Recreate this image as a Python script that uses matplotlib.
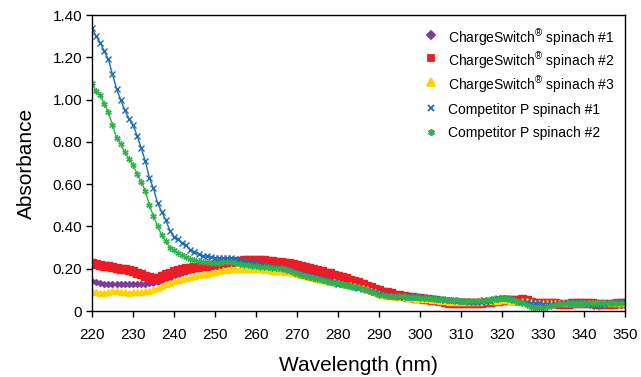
import numpy as np
import matplotlib
matplotlib.use('Agg')
import matplotlib.pyplot as plt
from matplotlib.ticker import FuncFormatter

plt.rcParams['font.family'] = ['Liberation Sans', 'DejaVu Sans']

# 波长 220-350 nm，每 1 nm 一个点
wavelength = list(range(220, 351))

# ChargeSwitch spinach #1（紫）
cs1 = [
    0.142, 0.138, 0.132, 0.127, 0.126, 0.126, 0.126, 0.126, 0.126, 0.127,
    0.128, 0.129, 0.130, 0.130, 0.131, 0.133, 0.138, 0.145, 0.152, 0.158,
    0.164, 0.170, 0.178, 0.185, 0.192, 0.198, 0.205, 0.210, 0.213, 0.216,
    0.220, 0.224, 0.227, 0.229, 0.230, 0.230, 0.229, 0.228, 0.227, 0.226,
    0.225, 0.224, 0.223, 0.222, 0.220, 0.218, 0.215, 0.212, 0.208, 0.205,
    0.200, 0.197, 0.194, 0.190, 0.186, 0.180, 0.175, 0.168, 0.162, 0.155,
    0.150, 0.145, 0.140, 0.135, 0.128, 0.120, 0.114, 0.108, 0.100, 0.094,
    0.088, 0.083, 0.079, 0.075, 0.072, 0.070, 0.068, 0.066, 0.064, 0.062,
    0.061, 0.059, 0.057, 0.055, 0.053, 0.051, 0.049, 0.047, 0.045, 0.044,
    0.043, 0.042, 0.042, 0.042, 0.043, 0.044, 0.045, 0.046, 0.047, 0.048,
    0.049, 0.050, 0.049, 0.047, 0.045, 0.042, 0.040, 0.038, 0.036, 0.035,
    0.035, 0.034, 0.034, 0.034, 0.035, 0.035, 0.035, 0.036, 0.036, 0.036,
    0.036, 0.036, 0.035, 0.035, 0.035, 0.034, 0.033, 0.032, 0.030, 0.029,
    0.028,
]

# ChargeSwitch spinach #2（红）
cs2 = [
    0.225, 0.222, 0.218, 0.215, 0.212, 0.210, 0.204, 0.200, 0.198, 0.194,
    0.190, 0.182, 0.175, 0.168, 0.162, 0.158, 0.157, 0.165, 0.175, 0.182,
    0.188, 0.193, 0.198, 0.202, 0.205, 0.208, 0.210, 0.212, 0.214, 0.217,
    0.220, 0.222, 0.226, 0.230, 0.233, 0.236, 0.238, 0.240, 0.241, 0.241,
    0.241, 0.241, 0.240, 0.238, 0.235, 0.232, 0.230, 0.228, 0.225, 0.222,
    0.218, 0.214, 0.210, 0.205, 0.200, 0.194, 0.188, 0.182, 0.178, 0.172,
    0.166, 0.160, 0.155, 0.148, 0.142, 0.135, 0.128, 0.120, 0.112, 0.105,
    0.098, 0.092, 0.088, 0.083, 0.078, 0.074, 0.070, 0.067, 0.064, 0.062,
    0.060, 0.058, 0.056, 0.054, 0.050, 0.046, 0.043, 0.040, 0.038, 0.037,
    0.036, 0.036, 0.036, 0.036, 0.038, 0.040, 0.042, 0.044, 0.046, 0.048,
    0.050, 0.050, 0.050, 0.052, 0.054, 0.056, 0.050, 0.042, 0.040, 0.039,
    0.039, 0.039, 0.039, 0.037, 0.035, 0.035, 0.035, 0.036, 0.037, 0.038,
    0.040, 0.038, 0.036, 0.035, 0.035, 0.035, 0.035, 0.035, 0.036, 0.036,
    0.036,
]

# ChargeSwitch spinach #3（黄）
cs3 = [
    0.095, 0.090, 0.086, 0.084, 0.088, 0.093, 0.095, 0.092, 0.089, 0.087,
    0.088, 0.090, 0.091, 0.093, 0.097, 0.103, 0.110, 0.118, 0.126, 0.134,
    0.140, 0.145, 0.150, 0.155, 0.160, 0.165, 0.170, 0.174, 0.177, 0.180,
    0.184, 0.188, 0.192, 0.195, 0.197, 0.198, 0.198, 0.198, 0.197, 0.197,
    0.197, 0.197, 0.196, 0.194, 0.191, 0.189, 0.187, 0.185, 0.183, 0.180,
    0.175, 0.170, 0.165, 0.160, 0.155, 0.150, 0.146, 0.142, 0.138, 0.135,
    0.132, 0.129, 0.125, 0.121, 0.117, 0.113, 0.108, 0.102, 0.095, 0.088,
    0.082, 0.077, 0.073, 0.070, 0.068, 0.066, 0.064, 0.062, 0.060, 0.058,
    0.057, 0.056, 0.055, 0.053, 0.051, 0.049, 0.047, 0.045, 0.044, 0.043,
    0.042, 0.041, 0.041, 0.041, 0.042, 0.045, 0.046, 0.046, 0.047, 0.048,
    0.050, 0.050, 0.048, 0.046, 0.045, 0.048, 0.046, 0.043, 0.040, 0.037,
    0.036, 0.036, 0.036, 0.036, 0.036, 0.036, 0.036, 0.036, 0.036, 0.036,
    0.036, 0.036, 0.036, 0.036, 0.036, 0.036, 0.036, 0.036, 0.036, 0.036,
    0.036,
]

# Competitor P spinach #1（蓝）
cp1 = [
    1.340, 1.300, 1.270, 1.230, 1.190, 1.120, 1.050, 1.000, 0.950, 0.910,
    0.880, 0.830, 0.770, 0.710, 0.630, 0.580, 0.510, 0.470, 0.430, 0.380,
    0.350, 0.340, 0.320, 0.310, 0.290, 0.280, 0.270, 0.260, 0.260, 0.255,
    0.250, 0.250, 0.250, 0.250, 0.250, 0.245, 0.240, 0.235, 0.230, 0.230,
    0.225, 0.220, 0.220, 0.215, 0.210, 0.210, 0.205, 0.200, 0.195, 0.190,
    0.180, 0.175, 0.170, 0.165, 0.160, 0.155, 0.150, 0.145, 0.140, 0.135,
    0.130, 0.130, 0.125, 0.120, 0.115, 0.110, 0.105, 0.100, 0.095, 0.090,
    0.085, 0.080, 0.075, 0.072, 0.070, 0.068, 0.068, 0.067, 0.066, 0.066,
    0.065, 0.064, 0.062, 0.060, 0.058, 0.056, 0.054, 0.052, 0.050, 0.048,
    0.047, 0.046, 0.045, 0.045, 0.044, 0.044, 0.045, 0.048, 0.055, 0.060,
    0.062, 0.062, 0.058, 0.050, 0.045, 0.043, 0.042, 0.040, 0.038, 0.036,
    0.035, 0.035, 0.035, 0.035, 0.035, 0.036, 0.037, 0.038, 0.038, 0.037,
    0.036, 0.032, 0.027, 0.025, 0.027, 0.032, 0.036, 0.038, 0.042, 0.045,
    0.043,
]

# Competitor P spinach #2（绿）
cp2 = [
    1.080, 1.040, 1.020, 0.980, 0.940, 0.880, 0.820, 0.790, 0.750, 0.720,
    0.690, 0.650, 0.610, 0.570, 0.500, 0.450, 0.400, 0.360, 0.330, 0.300,
    0.290, 0.275, 0.265, 0.255, 0.245, 0.240, 0.235, 0.233, 0.230, 0.228,
    0.226, 0.228, 0.232, 0.234, 0.232, 0.228, 0.222, 0.218, 0.216, 0.214,
    0.212, 0.210, 0.208, 0.206, 0.205, 0.204, 0.202, 0.198, 0.192, 0.185,
    0.178, 0.172, 0.166, 0.160, 0.155, 0.150, 0.145, 0.140, 0.137, 0.134,
    0.131, 0.128, 0.124, 0.120, 0.116, 0.112, 0.106, 0.100, 0.092, 0.085,
    0.078, 0.074, 0.072, 0.070, 0.070, 0.070, 0.069, 0.068, 0.066, 0.064,
    0.063, 0.062, 0.061, 0.060, 0.058, 0.056, 0.055, 0.053, 0.051, 0.050,
    0.049, 0.048, 0.048, 0.048, 0.048, 0.050, 0.052, 0.054, 0.056, 0.058,
    0.060, 0.060, 0.058, 0.050, 0.043, 0.036, 0.028, 0.020, 0.015, 0.012,
    0.014, 0.020, 0.026, 0.030, 0.033, 0.035, 0.036, 0.037, 0.038, 0.039,
    0.040, 0.039, 0.038, 0.037, 0.036, 0.036, 0.036, 0.036, 0.037, 0.038,
    0.038,
]

labels = [
    r'ChargeSwitch$^{\mathregular{®}}$ spinach #1',
    r'ChargeSwitch$^{\mathregular{®}}$ spinach #2',
    r'ChargeSwitch$^{\mathregular{®}}$ spinach #3',
    'Competitor P spinach #1',
    'Competitor P spinach #2',
]
colors = ['#7d3c98', '#ed1c24', '#ffd200', '#1a6fb5', '#2db34a']
markers = ['D', 's', '^', 'x', (6, 2, 0)]
msizes = [3, 5.5, 4, 4, 4.5]
series = [cs1, cs2, cs3, cp1, cp2]

fig = plt.figure(figsize=(6.41, 3.77), dpi=100)
ax = fig.add_axes([0.1435, 0.175, 0.8315, 0.785])

# 绘制顺序：紫、红、黄、蓝、绿
for i in range(5):
    ax.plot(wavelength, series[i], color=colors[i], marker=markers[i],
            markersize=msizes[i], linewidth=1.0, markeredgewidth=1.0)

ax.set_xlim(220, 350)
ax.set_ylim(0, 1.4)
ax.set_xticks(range(220, 351, 10))
ax.set_yticks(np.arange(0, 1.41, 0.2))
ax.yaxis.set_major_formatter(FuncFormatter(lambda v, p: '0' if abs(v) < 1e-9 else f'{v:.2f}'))
ax.tick_params(direction='out', length=4, width=1, labelsize=11, colors='black')
ax.tick_params(axis='x', pad=8)
ax.tick_params(axis='y', pad=3)
for s in ax.spines.values():
    s.set_linewidth(1.0)

ax.set_xlabel('Wavelength (nm)', fontsize=15, labelpad=10)
ax.set_ylabel('Absorbance', fontsize=15, labelpad=12)

# 手动图例（行距固定）
leg_y = [0.934, 0.854, 0.775, 0.686, 0.606]
leg_ms = [4.5, 4.2, 5.2, 4, 4.8]
for i in range(5):
    ax.plot([0.636], [leg_y[i]], transform=ax.transAxes, color=colors[i],
            marker=markers[i], markersize=leg_ms[i], markeredgewidth=1.3,
            linestyle='none', clip_on=False)
    ax.text(0.668, leg_y[i], labels[i], transform=ax.transAxes,
            fontsize=10, va='center_baseline', ha='left')

fig.savefig('out.png', dpi=100)
